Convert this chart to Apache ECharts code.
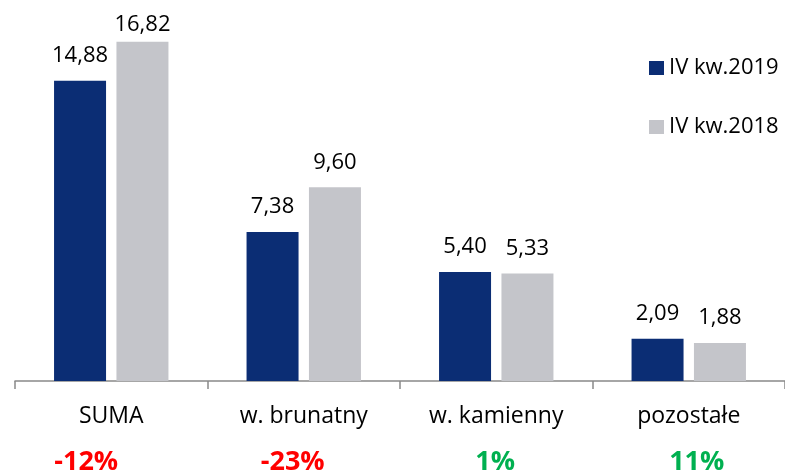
<!DOCTYPE html>
<html>
<head>
<meta charset="utf-8">
<script src="https://cdn.jsdelivr.net/npm/echarts@6/dist/echarts.min.js"></script>
<style>
  html, body { margin: 0; padding: 0; background: #fff; }
  #chart { width: 785px; height: 476px; }
</style>
</head>
<body>
<div id="chart"></div>
<script>
// Categories and values
const categories = ['SUMA', 'w. brunatny', 'w. kamienny', 'pozostałe'];
const values2019 = [14.88, 7.38, 5.40, 2.09];
const values2018 = [16.82, 9.60, 5.33, 1.88];
const changes = ['-12%', '-23%', '1%', '11%'];
const seriesNames = ['IV kw.2019', 'IV kw.2018'];

const FONT = '"Open Sans", Lato, sans-serif';
const fmt = v => v.toFixed(2).replace('.', ',');
const YMAX = 17;

// horizontal nudge (px) of each change label relative to its category centre
const changeNudge = [-25, -11, -1, 8];

const chart = echarts.init(document.getElementById('chart'), null, { renderer: 'canvas' });

const labelStyle = {
  show: true,
  position: 'top',
  distance: 14,
  color: '#000',
  fontSize: 22,
  fontFamily: FONT,
  formatter: p => fmt(p.value)
};

// labels of bars that reach the top of the plot sit closer to the bar
const barData = vals => vals.map(v => v > YMAX * 0.95 ? { value: v, label: { distance: 6 } } : v);

// one rich style per change label, coloured by sign and shifted by padding
const changeRich = {};
changes.forEach((c, i) => {
  const n = changeNudge[i];
  changeRich['p' + i] = {
    fontSize: 27,
    fontWeight: 'bold',
    fontFamily: FONT,
    color: c.startsWith('-') ? '#FF0000' : '#00B050',
    padding: n < 0 ? [0, -2 * n, 0, 0] : [0, 0, 0, 2 * n]
  };
});

chart.setOption({
  animation: false,
  backgroundColor: '#fff',
  grid: { left: 15, right: 0, top: 38, bottom: 95, containLabel: false },
  legend: {
    orient: 'vertical',
    left: 644,
    top: 52,
    itemWidth: 15,
    itemHeight: 14,
    itemGap: 37,
    icon: 'rect',
    textStyle: { fontSize: 22, fontFamily: FONT, color: '#000' },
    data: seriesNames
  },
  xAxis: [
    {
      type: 'category',
      data: categories,
      axisLine: { lineStyle: { color: '#898989', width: 1.5 } },
      axisTick: { show: true, length: 8, lineStyle: { color: '#898989', width: 1.5 } },
      axisLabel: {
        interval: 0,
        margin: 24,
        fontSize: 23,
        fontFamily: FONT,
        color: '#000'
      }
    },
    {
      // percentage change row beneath the category names
      type: 'category',
      position: 'bottom',
      data: changes,
      axisLine: { show: false },
      axisTick: { show: false },
      axisLabel: {
        interval: 0,
        margin: 68,
        formatter: (v, i) => '{p' + i + '|' + v + '}',
        rich: changeRich
      }
    }
  ],
  yAxis: {
    type: 'value',
    min: 0,
    max: YMAX,
    show: false,
    splitLine: { show: false }
  },
  series: [
    {
      name: seriesNames[0],
      type: 'bar',
      data: barData(values2019),
      barWidth: 52,
      barGap: '20%',
      itemStyle: { color: '#0B2D74' },
      label: labelStyle
    },
    {
      name: seriesNames[1],
      type: 'bar',
      data: barData(values2018),
      barWidth: 52,
      itemStyle: { color: '#C4C5CA' },
      label: labelStyle
    }
  ]
});
</script>
</body>
</html>
